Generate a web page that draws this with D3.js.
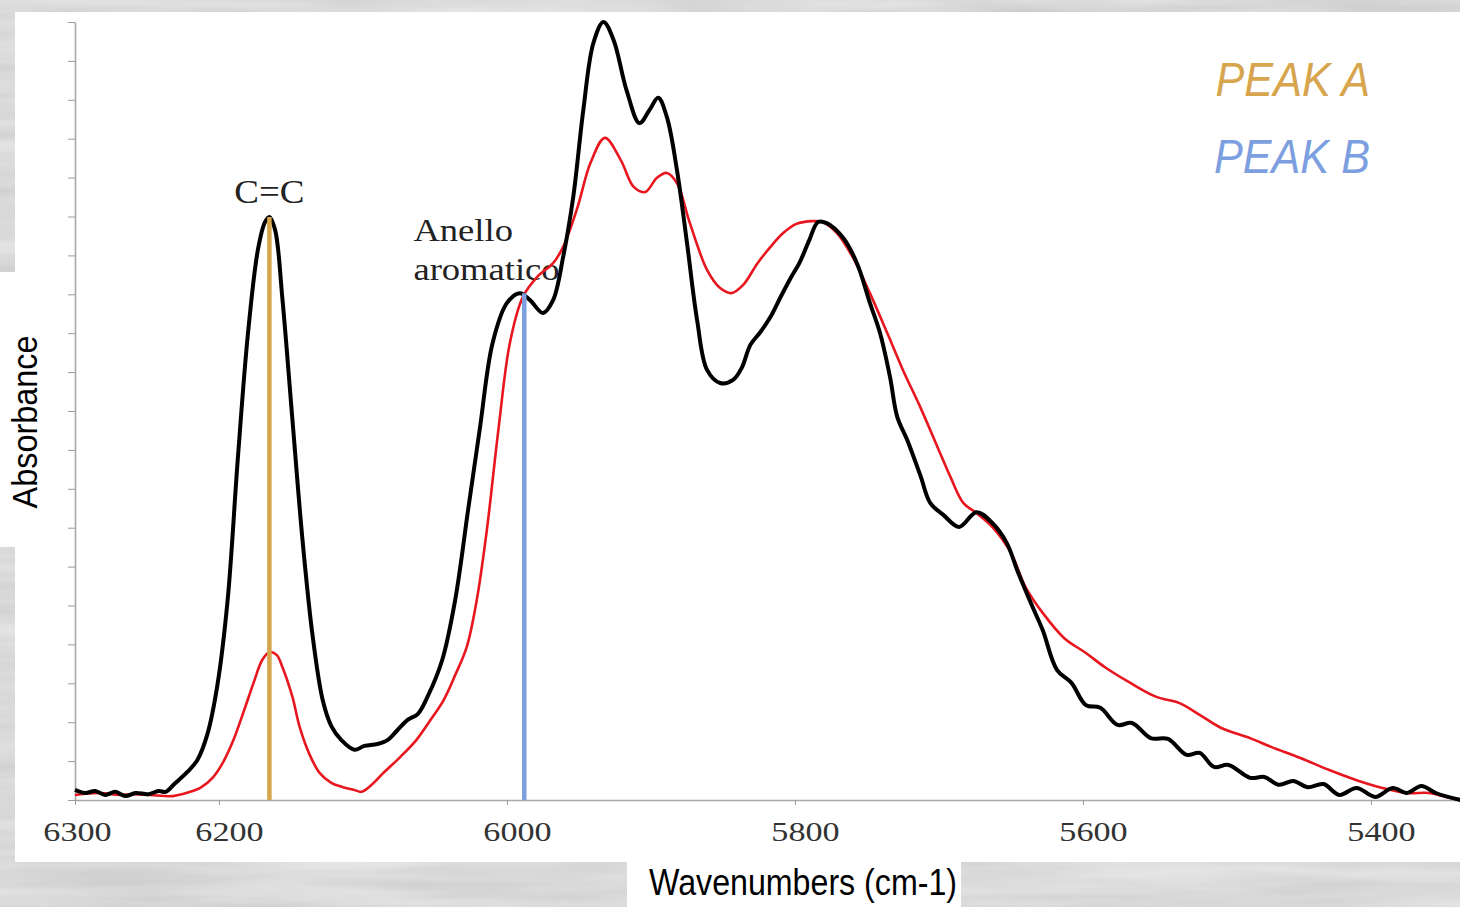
<!DOCTYPE html>
<html>
<head>
<meta charset="utf-8">
<script src="https://cdn.jsdelivr.net/npm/d3@7"></script>
<style>
  html, body { margin: 0; padding: 0; background: #bdbdbd; }
  svg { display: block; }
</style>
</head>
<body>
<svg id="chart" width="1460" height="907"></svg>
<script>
// ---------------- DATA ----------------
const xTickValues = [6300, 6200, 6000, 5800, 5600, 5400];
const yTickValues = d3.range(0, 21);   // unlabeled minor ticks

// Black spectrum (wavenumber, absorbance)
const blackWn = [6300,6293,6286,6279,6272,6265,6258,6249,6242,6237,6231,6222,6215,6208,6201,6194,6187,6180,6173,6168,6165,6161,6156,6149,6142,6135,6128,6122,6115,6106,6099,6090,6083,6076,6069,6062,6055,6045,6036,6027,6019,6010,6000,5991,5984,5975,5968,5961,5954,5947,5940,5933,5926,5917,5908,5901,5895,5889,5882,5875,5868,5861,5852,5843,5837,5831,5824,5817,5810,5803,5797,5790,5784,5778,5767,5757,5748,5741,5734,5729,5722,5713,5706,5697,5686,5674,5663,5653,5645,5635,5628,5618,5608,5598,5588,5576,5566,5553,5541,5528,5519,5509,5499,5484,5474,5464,5454,5444,5433,5422,5410,5397,5385,5375,5365,5355,5338];
const blackAbs = [0.26,0.18,0.23,0.13,0.21,0.10,0.18,0.15,0.23,0.21,0.41,0.72,1.03,1.70,2.98,5.14,8.74,11.95,14.14,14.86,14.99,14.65,12.90,9.77,6.68,4.22,2.57,1.90,1.54,1.29,1.39,1.44,1.54,1.80,2.06,2.21,2.67,3.60,5.14,7.46,9.51,11.75,12.78,13.03,12.85,12.52,12.85,13.96,15.50,17.74,19.46,20.00,19.54,18.25,17.40,17.74,18.05,17.56,16.20,14.32,12.34,11.05,10.72,10.80,11.11,11.70,12.03,12.42,12.93,13.42,13.80,14.40,14.86,14.83,14.47,13.80,12.78,12.01,10.87,9.85,9.25,8.35,7.63,7.33,7.02,7.40,7.12,6.61,5.84,4.96,4.37,3.34,3.01,2.44,2.37,1.93,1.98,1.59,1.57,1.16,1.21,0.85,0.90,0.57,0.59,0.39,0.49,0.33,0.41,0.13,0.31,0.08,0.31,0.18,0.36,0.18,0.00];

// Red spectrum (wavenumber, absorbance)
const redWn = [6300,6283,6269,6260,6248,6232,6220,6213,6204,6197,6190,6183,6176,6170,6165,6160,6156,6149,6144,6137,6130,6122,6114,6106,6101,6094,6086,6074,6063,6054,6044,6036,6028,6021,6014,6006,5998,5989,5979,5968,5961,5951,5942,5932,5921,5912,5904,5896,5889,5882,5873,5861,5852,5844,5836,5826,5817,5808,5799,5788,5781,5771,5760,5748,5736,5725,5713,5701,5692,5683,5674,5663,5650,5640,5628,5613,5598,5585,5568,5549,5533,5519,5504,5484,5469,5449,5429,5410,5392,5375,5360,5348,5338];
const redAbs = [0.13,0.18,0.13,0.15,0.13,0.10,0.21,0.31,0.59,0.98,1.54,2.26,3.01,3.60,3.80,3.73,3.42,2.65,1.88,1.16,0.69,0.44,0.33,0.26,0.21,0.39,0.69,1.11,1.54,2.01,2.57,3.21,3.93,5.14,6.94,9.51,11.75,12.93,13.45,13.80,14.22,15.24,16.38,17.02,16.45,15.76,15.63,15.99,16.12,15.86,14.83,13.62,13.16,13.03,13.24,13.80,14.22,14.58,14.81,14.88,14.86,14.58,13.96,13.03,12.01,11.05,10.10,9.07,8.30,7.63,7.38,7.02,6.35,5.48,4.81,4.16,3.78,3.42,3.03,2.65,2.49,2.19,1.85,1.59,1.36,1.08,0.77,0.51,0.31,0.18,0.18,0.08,0.00];

// Marker lines: wavenumber and height (absorbance)
const peakNames  = ["PEAK A", "PEAK B"];
const peakWn     = [6165, 5988];
const peakTop    = [14.99, 13.03];
const peakColors = ["#d6a54d", "#7d9fe0"];

// Band annotations
const bandLabels = [["C=C"], ["Anello", "aromatico"]];
const bandWn     = [6165, 6065];
const bandAbs    = [15.35, 14.37];

// ---------------- LAYOUT ----------------
const W = 1460, H = 907;
const svg = d3.select("#chart");
const defs = svg.append("defs");

// Marble-like gray background
const f = defs.append("filter").attr("id", "marble")
  .attr("x", 0).attr("y", 0).attr("width", "100%").attr("height", "100%");
f.append("feTurbulence").attr("type", "fractalNoise")
  .attr("baseFrequency", "0.004 0.05").attr("numOctaves", 3).attr("seed", 7);
f.append("feColorMatrix").attr("type", "matrix")
  .attr("values", "0.3 0 0 0 0.55  0.3 0 0 0 0.55  0.3 0 0 0 0.55  0 0 0 0 1");
svg.append("rect").attr("width", W).attr("height", H).attr("filter", "url(#marble)");

// White panels
svg.append("rect").attr("x", 15).attr("y", 12).attr("width", W - 15).attr("height", 850).attr("fill", "#fff");
svg.append("rect").attr("x", 0).attr("y", 272).attr("width", 16).attr("height", 275).attr("fill", "#fff");
svg.append("rect").attr("x", 627).attr("y", 855).attr("width", 334).attr("height", 52).attr("fill", "#fff");

// Scales
const x = d3.scaleLinear().domain([6300, 5400]).range([75, 1371]);
const y = d3.scaleLinear().domain([0, 20]).range([800, 22]);

// Y axis
const yAx = svg.append("g").attr("transform", "translate(75,0)")
  .call(d3.axisLeft(y).tickValues(yTickValues).tickSize(7).tickFormat("").tickSizeOuter(0));
yAx.select(".domain").attr("stroke", "#a8a8a8").attr("stroke-width", 1.6);
yAx.selectAll(".tick line").attr("stroke", "#9a9a9a").attr("stroke-width", 1);

// X axis
const xAx = svg.append("g").attr("transform", "translate(0,800)")
  .call(d3.axisBottom(x).tickValues(xTickValues).tickSize(5).tickSizeOuter(0).tickFormat(d3.format("d")));
xAx.select(".domain").attr("d", `M75,0.5H${W}`).attr("stroke", "#a8a8a8").attr("stroke-width", 1.6);
xAx.selectAll(".tick line").attr("stroke", "#9a9a9a");
xAx.selectAll(".tick text")
  .attr("y", 41).attr("dy", 0)
  .attr("fill", "#333")
  .attr("font-family", "'Liberation Serif', 'Times New Roman', serif")
  .attr("font-size", 28)
  .attr("transform", (d, i) => `translate(${i === 0 ? 2 : 10},0) scale(1.22,1)`);

// Band annotation text (drawn beneath curves)
bandLabels.forEach((lines, i) => {
  const t = svg.append("text")
    .attr("font-family", "'Liberation Serif', 'Times New Roman', serif")
    .attr("fill", "#222");
  if (i === 0) {
    t.attr("font-size", 33)
     .attr("text-anchor", "middle")
     .attr("transform", `translate(${x(bandWn[i])},${y(bandAbs[i])}) scale(1.12,1)`)
     .text(lines[0]);
  } else {
    t.attr("font-size", 31)
     .attr("transform", `translate(${x(bandWn[i])},${y(bandAbs[i])}) scale(1.18,1)`);
    lines.forEach((s, j) => t.append("tspan").attr("x", 0).attr("y", j * 39).text(s));
  }
});

// Spectra
const line = d3.line()
  .x(d => x(d[0])).y(d => y(d[1]))
  .curve(d3.curveCatmullRom.alpha(0.5));

const blackPts = blackWn.map((w, i) => [w, blackAbs[i]]);
const redPts = redWn.map((w, i) => [w, redAbs[i]]);

svg.append("path").datum(redPts).attr("d", line)
  .attr("fill", "none").attr("stroke", "#e8161e").attr("stroke-width", 2.6)
  .attr("stroke-linejoin", "round");
svg.append("path").datum(blackPts).attr("d", line)
  .attr("fill", "none").attr("stroke", "#000").attr("stroke-width", 4)
  .attr("stroke-linejoin", "round");

// Peak marker lines
peakWn.forEach((w, i) => {
  svg.append("line")
    .attr("x1", x(w)).attr("x2", x(w))
    .attr("y1", y(0)).attr("y2", y(peakTop[i]))
    .attr("stroke", peakColors[i]).attr("stroke-width", 4.5);
});

// Legend text
peakNames.forEach((n, i) => {
  svg.append("text")
    .attr("transform", `translate(1370,${96 + i * 77}) scale(0.9,1)`)
    .attr("text-anchor", "end")
    .attr("font-family", "'Liberation Sans', Arial, sans-serif")
    .attr("font-style", "italic")
    .attr("font-size", 48)
    .attr("fill", peakColors[i])
    .text(n);
});

// Axis titles
svg.append("text")
  .attr("transform", "translate(37,422) rotate(-90) scale(0.9,1)")
  .attr("text-anchor", "middle")
  .attr("font-family", "'Liberation Sans', Arial, sans-serif")
  .attr("font-size", 36).attr("fill", "#000")
  .text("Absorbance");
svg.append("text")
  .attr("transform", "translate(803,895) scale(0.87,1)")
  .attr("text-anchor", "middle")
  .attr("font-family", "'Liberation Sans', Arial, sans-serif")
  .attr("font-size", 37).attr("fill", "#000")
  .text("Wavenumbers (cm-1)");
</script>
</body>
</html>
